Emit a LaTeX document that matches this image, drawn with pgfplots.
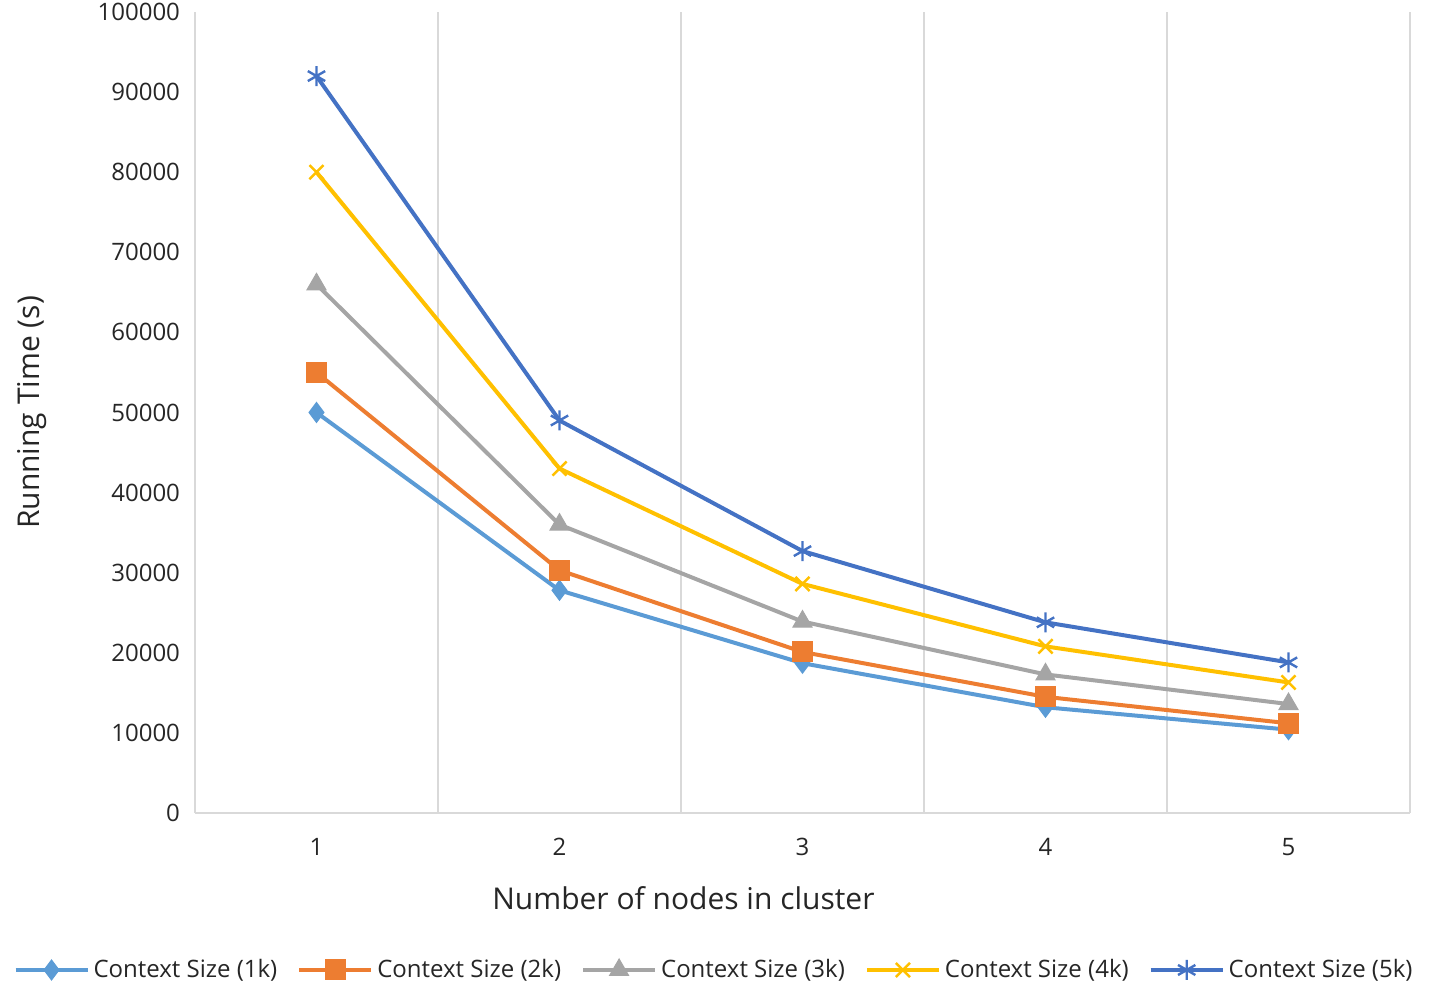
\documentclass[border=0pt]{standalone}
\usepackage{pgfplots}
\pgfplotsset{compat=1.18}
\usepackage{fontspec}
\setmainfont{Open Sans}
\definecolor{c1}{HTML}{5B9BD5}
\definecolor{c2}{HTML}{ED7D31}
\definecolor{c3}{HTML}{A5A5A5}
\definecolor{c4}{HTML}{FFC000}
\definecolor{c5}{HTML}{4472C4}
\definecolor{gridc}{HTML}{D9D9D9}
\begin{document}
\begin{tikzpicture}[x=1pt,y=1pt]
\path[use as bounding box] (-97.5,-87.5) rectangle (617,406.5);
\begin{axis}[
  at={(0,0)}, anchor=south west,
  scale only axis, width=607.5pt, height=400.5pt,
  xmin=0.5, xmax=5.5, ymin=0, ymax=100000,
  xtick={1,2,3,4,5},
  minor xtick={0.5,1.5,2.5,3.5,4.5,5.5},
  ytick={0,10000,...,100000},
  minor x grid style={gridc, line width=0.8pt},
  xminorgrids=true,
  axis line style={draw=none},
  major tick length=0pt, minor tick length=0pt,
  scaled y ticks=false,
  /pgf/number format/assume math mode=true,
  yticklabel style={/pgf/number format/fixed, /pgf/number format/1000 sep={}, font=\fontsize{12}{14}\selectfont, color=black!85},
  xticklabel style={font=\fontsize{12}{14}\selectfont, color=black!85, yshift=-9pt},
  yticklabel style={xshift=-4pt},
  xlabel={Number of nodes in cluster},
  ylabel={Running Time (s)},
  label style={font=\fontsize{15}{18}\selectfont, color=black!85},
  xlabel style={at={(axis description cs:0.402,-0.106)}, anchor=center},
  ylabel style={at={(axis description cs:-0.134,0.5)}, anchor=center},
  legend style={at={(axis description cs:0.428,-0.196)}, anchor=center, draw=none,
    font=\fontsize{12}{14}\selectfont, text=black!85,
    /tikz/every even column/.append style={column sep=8pt}},
  legend columns=5,
  legend image code/.code={\draw[mark repeat=2,mark phase=2] plot coordinates {(0pt,0pt) (18pt,0pt) (36pt,0pt)};},
  every axis plot/.append style={line width=2pt},
  clip=false,
]
\draw[gridc, line width=0.8pt] (axis cs:0.5,0) -- (axis cs:5.5,0);
\addplot[color=c1, mark=diamond*, mark size=5pt, mark options={solid, line width=0.5pt}]
  coordinates {(1,50000) (2,27800) (3,18700) (4,13200) (5,10400)};
\addlegendentry{Context Size (1k)}
\addplot[color=c2, mark=square*, mark size=5pt, mark options={solid, line width=0.5pt}]
  coordinates {(1,55000) (2,30300) (3,20100) (4,14500) (5,11200)};
\addlegendentry{Context Size (2k)}
\addplot[color=c3, mark=triangle*, mark size=5.5pt, mark options={solid, line width=0.5pt}]
  coordinates {(1,66000) (2,36000) (3,23900) (4,17300) (5,13600)};
\addlegendentry{Context Size (3k)}
\addplot[color=c4, mark=x, mark size=5pt, mark options={solid, line width=1.2pt}]
  coordinates {(1,80000) (2,43000) (3,28600) (4,20800) (5,16300)};
\addlegendentry{Context Size (4k)}
\addplot[color=c5, mark=asterisk, mark size=5pt, mark options={solid, line width=1.2pt}]
  coordinates {(1,92000) (2,49000) (3,32700) (4,23800) (5,18800)};
\addlegendentry{Context Size (5k)}
\end{axis}
\end{tikzpicture}
\end{document}
